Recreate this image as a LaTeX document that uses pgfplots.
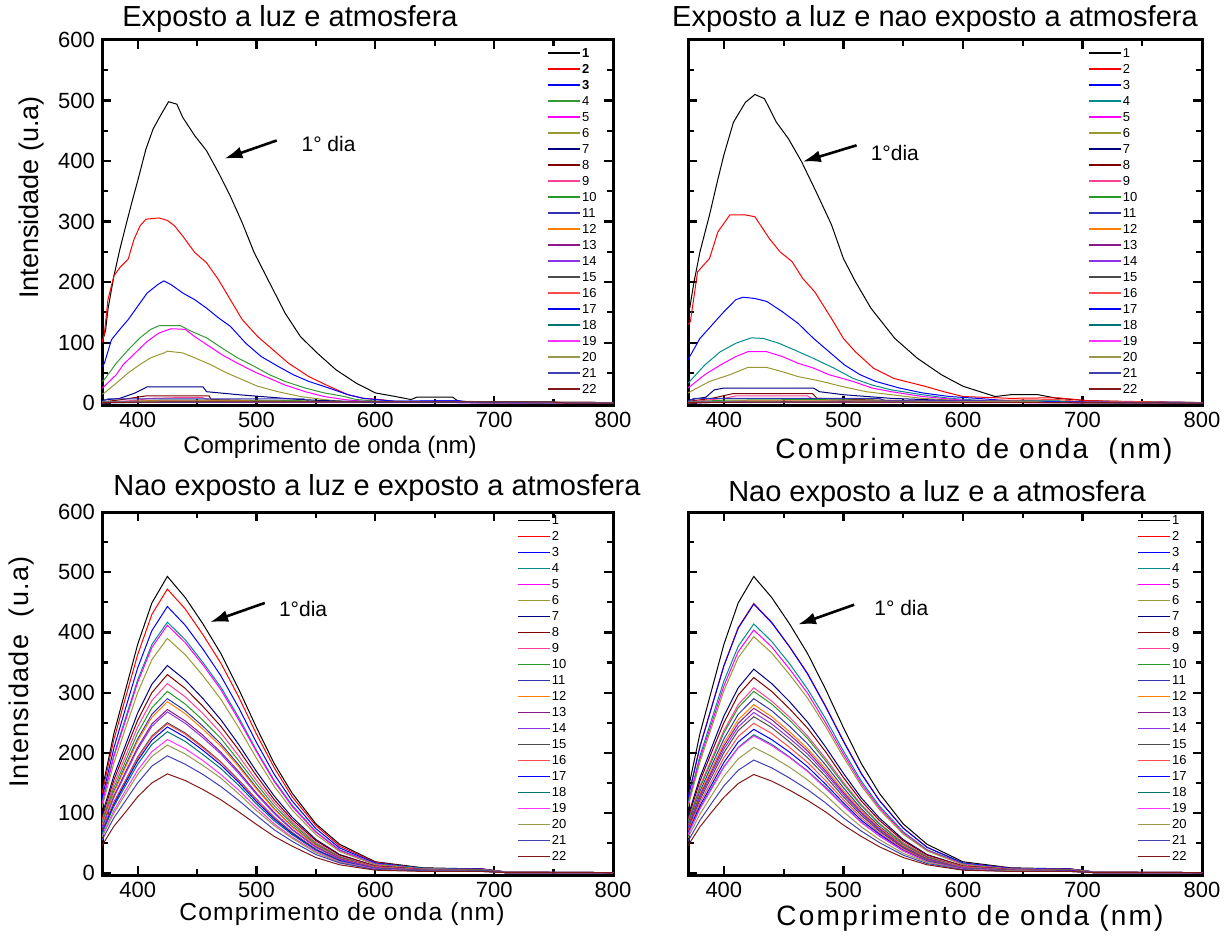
\documentclass[border=0pt]{standalone}
\usepackage{fontspec}
\setmainfont{Liberation Sans}
\newfontfamily\spaced[LetterSpace=8]{Liberation Sans}
\newfontfamily\spacedb[LetterSpace=5]{Liberation Sans}
\usepackage{pgfplots}
\pgfplotsset{compat=1.18}
\usetikzlibrary{arrows.meta}
\definecolor{c1}{rgb}{0,0,0}
\definecolor{c2}{rgb}{1,0,0}
\definecolor{c3}{rgb}{0,0,1}
\definecolor{c4}{rgb}{0,0.55,0.55}
\definecolor{c4g}{rgb}{0.2,0.6,0.2}
\definecolor{c5}{rgb}{1,0,1}
\definecolor{c6}{rgb}{0.6,0.6,0.2}
\definecolor{c7}{rgb}{0,0,0.5}
\definecolor{c8}{rgb}{0.5,0,0}
\definecolor{c9}{rgb}{1,0.25,0.6}
\definecolor{c10}{rgb}{0.15,0.6,0.15}
\definecolor{c11}{rgb}{0.2,0.2,0.7}
\definecolor{c12}{rgb}{1,0.5,0}
\definecolor{c13}{rgb}{0.55,0.1,0.55}
\definecolor{c14}{rgb}{0.55,0.2,0.9}
\definecolor{c15}{rgb}{0.3,0.3,0.3}
\definecolor{c16}{rgb}{1,0.3,0.3}
\definecolor{c17}{rgb}{0,0,1}
\definecolor{c18}{rgb}{0,0.45,0.45}
\definecolor{c19}{rgb}{1,0.2,1}
\definecolor{c20}{rgb}{0.6,0.6,0.3}
\definecolor{c21}{rgb}{0.25,0.25,0.7}
\definecolor{c22}{rgb}{0.5,0.1,0.1}
\tikzset{
 arr/.style={-{Latex[length=9pt,width=6pt]}, line width=1.3pt},
 dia/.style={anchor=west, font=\fontsize{10.5}{12}\selectfont},
}
\pgfplotsset{
 panel/.style={
  scale only axis, width=255.5pt, height=182.5pt,
  xmin=370, xmax=800, ymin=-3, ymax=600,
  xtick={400,500,600,700,800}, minor xtick={450,550,650,750},
  ytick={0,100,...,600}, minor ytick={50,150,...,550},
  tick align=inside, major tick length=4.5pt, minor tick length=3pt,
  every tick/.style={black, line width=1.1pt},
  axis line style={line width=1.5pt},
  tick label style={font=\fontsize{11}{12}\selectfont},
  /pgf/number format/assume math mode=true,
  clip mode=individual,
  legend image code/.code={\draw[#1, line width=0.7pt] (0pt,0pt) -- (16pt,0pt);},
  legend style={draw=none, fill=none, anchor=north west, inner sep=0pt,
    font=\fontsize{6.5}{7}\selectfont,
    nodes={inner sep=0.6pt, text height=5pt, text depth=0.5pt},
    row sep=1.3pt, cells={anchor=west}},
  every axis plot/.append style={line width=0.5pt, mark=none},
 },
}
\begin{document}
\begin{tikzpicture}
\useasboundingbox (0,0) rectangle (615.5pt,-469pt);
% ---------------- Top left ----------------
\begin{axis}[panel, at={(51pt,-202.5pt)}, anchor=south west,
  legend style={at={(0.871,0.984)}}]
\addplot[c1] coordinates {(370,100)(373,120)(375,155)(380,210)(385,254)(390,293)(395,331)(400,367)(407,420)(413,453)(420,478)(426,498)(433,494)(438,472)(448,442)(458,417)(468,381)(478,342)(488,298)(498,249)(511,199)(524,149)(537,110)(551,83)(567,55)(584,33)(600,17)(617,11)(630,6)(635,10)(665,10)(670,3)(700,2)(800,1)};
\addplot[c2] coordinates {(370,100)(372,115)(375,171)(380,210)(385,224)(392,238)(397,271)(402,293)(407,304)(418,306)(425,302)(431,293)(438,276)(448,249)(458,232)(468,204)(478,171)(488,138)(501,110)(514,88)(527,66)(544,44)(561,28)(577,14)(590,8)(604,6)(617,3)(680,2)(800,1)};
\addplot[c3] coordinates {(370,60)(372,66)(378,105)(385,122)(392,138)(400,160)(408,182)(417,196)(422,202)(428,196)(438,182)(448,171)(458,157)(468,141)(478,127)(491,99)(504,77)(518,61)(531,47)(544,36)(561,25)(577,14)(590,8)(617,3)(670,4)(680,1)(800,1)};
\addplot[c4g] coordinates {(370,36)(372,39)(382,66)(392,88)(402,108)(411,122)(418,128)(436,128)(445,119)(458,108)(471,91)(484,75)(498,61)(511,47)(524,36)(541,25)(557,17)(574,11)(584,6)(604,3)(700,2)(800,1)};
\addplot[c5] coordinates {(370,25)(372,28)(382,47)(388,64)(398,83)(408,102)(418,116)(428,123)(440,122)(448,110)(458,97)(471,80)(484,66)(498,52)(511,41)(524,30)(541,19)(557,11)(574,6)(590,3)(800,1)};
\addplot[c6] coordinates {(370,15)(372,17)(382,33)(392,50)(402,64)(411,75)(422,83)(425,86)(438,83)(448,75)(461,64)(475,50)(488,39)(501,28)(518,19)(537,11)(557,6)(574,3)(800,1)};
\addplot[c7] coordinates {(370,5)(385,8)(398,17)(408,27)(455,27)(458,19)(485,14)(504,11)(537,6)(574,3)(700,1)(800,0)};
\addplot[c8] coordinates {(370,2)(387,6)(400,10)(407,12)(460,12)(462,6)(505,4)(540,3)(620,2)(700,1)(800,0)};
\addplot[c9] coordinates {(370,1)(400,5)(410,8)(430,9)(455,9)(460,5)(500,3)(600,2)(800,0)};
\addplot[c10] coordinates {(370,1)(395,3)(420,5)(460,5)(540,4)(560,2)(700,1)(800,0)};
\addplot[c11] coordinates {(370,3)(375,7)(540,7)(545,3)(700,1)(800,0)};
\addplot[c12] coordinates {(370,1)(410,4)(470,4)(600,2)(800,0)};
\addplot[c13] coordinates {(370,1)(400,3)(500,3)(620,2)(800,0)};
\addplot[c14] coordinates {(370,1)(420,3)(560,2)(680,2)(800,0)};
\addplot[c15] coordinates {(370,1)(400,2)(600,2)(800,0)};
\addplot[c16] coordinates {(370,1)(420,3)(520,2)(680,3)(700,1)(800,0)};
\addplot[c17] coordinates {(370,2)(500,2)(670,4)(680,1)(800,0)};
\addplot[c18] coordinates {(370,1)(600,2)(750,2)(760,0)(800,0)};
\addplot[c19] coordinates {(370,1)(450,2)(620,1)(800,0)};
\addplot[c20] coordinates {(370,2)(450,3)(600,2)(800,0)};
\addplot[c21] coordinates {(370,1)(500,2)(700,1)(800,0)};
\addplot[c22] coordinates {(370,1)(420,2)(750,2)(760,0)(800,0)};
\legend{\textbf{1},\textbf{2},\textbf{3},4,5,6,7,8,9,10,11,12,13,14,15,16,17,18,19,20,21,22}
\draw[arr] (axis cs:517,434) -- (axis cs:473,404);
\node[dia] at (axis cs:532,429) {1° dia};
\end{axis}
% ---------------- Top right ----------------
\begin{axis}[panel, at={(344pt,-202.5pt)}, anchor=south west, width=257pt,
  yticklabels={}, legend style={at={(0.778,0.984)}}]
\addplot[c1] coordinates {(370,140)(375,200)(380,250)(388,311)(395,370)(400,410)(408,464)(418,497)(426,510)(434,503)(444,464)(454,437)(465,399)(477,350)(490,295)(500,239)(510,201)(523,157)(543,107)(562,74)(582,47)(600,28)(627,11)(640,14)(663,14)(679,8)(705,4)(750,2)(800,1)};
\addplot[c2] coordinates {(370,130)(372,135)(378,217)(388,239)(395,283)(405,311)(418,311)(426,308)(438,272)(447,250)(457,234)(466,206)(476,184)(490,140)(500,107)(510,85)(525,58)(542,41)(568,28)(584,19)(600,11)(640,8)(679,9)(705,4)(800,1)};
\addplot[c3] coordinates {(370,72)(380,107)(390,129)(400,151)(410,171)(416,175)(426,173)(436,168)(449,151)(462,132)(475,107)(488,85)(501,63)(514,47)(527,36)(547,25)(566,17)(589,11)(612,8)(638,4)(700,2)(800,1)};
\addplot[c4] coordinates {(370,33)(384,63)(397,85)(410,99)(423,108)(433,107)(446,99)(459,88)(475,74)(492,58)(508,41)(524,30)(540,22)(566,14)(589,8)(620,4)(700,2)(800,1)};
\addplot[c5] coordinates {(370,25)(384,47)(397,63)(410,77)(420,85)(436,85)(449,77)(462,66)(475,58)(488,47)(508,36)(524,25)(540,19)(566,11)(600,5)(700,2)(800,1)};
\addplot[c6] coordinates {(370,17)(388,36)(405,47)(420,59)(436,59)(449,52)(462,44)(482,36)(498,28)(519,19)(540,14)(566,8)(600,4)(800,1)};
\addplot[c7] coordinates {(370,5)(385,10)(392,22)(400,25)(475,25)(480,19)(500,14)(540,8)(580,5)(620,3)(700,1)(800,0)};
\addplot[c8] coordinates {(370,3)(390,8)(408,16)(474,16)(478,8)(530,5)(600,3)(700,1)(800,0)};
\addplot[c9] coordinates {(370,2)(400,8)(410,12)(470,12)(475,6)(560,3)(800,0)};
\addplot[c10] coordinates {(370,2)(400,5)(470,6)(570,4)(620,2)(800,0)};
\addplot[c11] coordinates {(370,3)(375,8)(530,8)(535,4)(700,1)(800,0)};
\addplot[c12] coordinates {(370,1)(420,4)(500,4)(620,2)(800,0)};
\addplot[c13] coordinates {(370,1)(410,3)(520,3)(640,2)(800,0)};
\addplot[c14] coordinates {(370,1)(420,3)(560,3)(620,2)(800,0)};
\addplot[c15] coordinates {(370,1)(450,2)(650,2)(680,1)(800,0)};
\addplot[c16] coordinates {(370,1)(500,2)(680,6)(700,2)(750,2)(760,0)(800,0)};
\addplot[c17] coordinates {(370,2)(520,3)(600,4)(650,3)(800,0)};
\addplot[c18] coordinates {(370,1)(600,3)(680,4)(690,1)(800,0)};
\addplot[c19] coordinates {(370,1)(450,2)(600,1)(800,0)};
\addplot[c20] coordinates {(370,2)(500,3)(660,3)(670,1)(800,0)};
\addplot[c21] coordinates {(370,1)(500,2)(720,1)(800,0)};
\addplot[c22] coordinates {(370,1)(450,2)(700,1)(800,0)};
\legend{1,2,3,4,5,6,7,8,9,10,11,12,13,14,15,16,17,18,19,20,21,22}
\draw[arr] (axis cs:511,426) -- (axis cs:466,399);
\node[dia] at (axis cs:517,414) {1°dia};
\end{axis}
% ---------------- Bottom left ----------------
\begin{axis}[panel, at={(51pt,-437.5pt)}, anchor=south west, height=181.5pt,
  legend style={at={(0.812,0.997)}}]
\addplot[c1] coordinates {(370,138)(380,232)(390,306)(400,380)(412,449)(425,493)(440,458)(455,414)(470,365)(485,306)(500,242)(515,182)(530,133)(550,82)(570,48)(600,19)(640,9)(690,7)(710,2)(800,1)};
\addplot[c2] coordinates {(370,132)(380,222)(390,293)(400,363)(412,430)(425,472)(440,439)(455,396)(470,349)(485,293)(500,231)(515,175)(530,127)(550,79)(570,45)(600,18)(640,8)(690,7)(710,2)(800,1)};
\addplot[c3] coordinates {(370,124)(380,208)(390,275)(400,341)(412,403)(425,443)(440,412)(455,372)(470,328)(485,275)(500,217)(515,164)(530,120)(550,74)(570,42)(600,17)(640,8)(690,7)(710,2)(800,1)};
\addplot[c4] coordinates {(370,117)(380,196)(390,259)(400,321)(412,380)(425,417)(440,388)(455,350)(470,309)(485,259)(500,204)(515,154)(530,113)(550,69)(570,39)(600,16)(640,8)(690,6)(710,2)(800,1)};
\addplot[c5] coordinates {(370,115)(380,194)(390,255)(400,317)(412,375)(425,412)(440,383)(455,346)(470,305)(485,255)(500,202)(515,152)(530,111)(550,68)(570,38)(600,15)(640,7)(690,6)(710,2)(800,1)};
\addplot[c6] coordinates {(370,109)(380,183)(390,242)(400,300)(412,355)(425,390)(440,363)(455,328)(470,289)(485,242)(500,191)(515,144)(530,105)(550,64)(570,36)(600,14)(640,7)(690,6)(710,2)(800,1)};
\addplot[c7] coordinates {(370,97)(380,162)(390,214)(400,266)(412,314)(425,345)(440,321)(455,290)(470,255)(485,214)(500,169)(515,128)(530,93)(550,56)(570,31)(600,12)(640,6)(690,5)(710,1)(800,1)};
\addplot[c8] coordinates {(370,92)(380,155)(390,205)(400,254)(412,300)(425,330)(440,307)(455,277)(470,244)(485,205)(500,162)(515,122)(530,89)(550,54)(570,30)(600,12)(640,6)(690,5)(710,1)(800,1)};
\addplot[c9] coordinates {(370,88)(380,148)(390,195)(400,243)(412,287)(425,315)(440,293)(455,265)(470,233)(485,195)(500,154)(515,117)(530,85)(550,51)(570,28)(600,11)(640,6)(690,5)(710,1)(800,1)};
\addplot[c10] coordinates {(370,85)(380,142)(390,187)(400,233)(412,275)(425,302)(440,281)(455,254)(470,224)(485,187)(500,148)(515,112)(530,82)(550,49)(570,27)(600,10)(640,5)(690,5)(710,1)(800,1)};
\addplot[c11] coordinates {(370,81)(380,136)(390,180)(400,223)(412,264)(425,290)(440,270)(455,244)(470,215)(485,180)(500,142)(515,107)(530,78)(550,47)(570,26)(600,10)(640,5)(690,4)(710,1)(800,1)};
\addplot[c12] coordinates {(370,80)(380,134)(390,177)(400,220)(412,259)(425,285)(440,265)(455,239)(470,211)(485,177)(500,140)(515,106)(530,77)(550,46)(570,25)(600,10)(640,5)(690,4)(710,1)(800,1)};
\addplot[c13] coordinates {(370,76)(380,128)(390,169)(400,209)(412,248)(425,272)(440,253)(455,229)(470,201)(485,169)(500,133)(515,101)(530,73)(550,44)(570,24)(600,9)(640,5)(690,4)(710,1)(800,1)};
\addplot[c14] coordinates {(370,75)(380,126)(390,166)(400,206)(412,244)(425,268)(440,249)(455,225)(470,198)(485,166)(500,131)(515,99)(530,72)(550,43)(570,23)(600,9)(640,5)(690,4)(710,1)(800,1)};
\addplot[c15] coordinates {(370,70)(380,118)(390,155)(400,193)(412,228)(425,250)(440,233)(455,210)(470,185)(485,155)(500,123)(515,93)(530,68)(550,40)(570,21)(600,8)(640,5)(690,4)(710,1)(800,1)};
\addplot[c16] coordinates {(370,69)(380,117)(390,154)(400,191)(412,226)(425,248)(440,231)(455,208)(470,184)(485,154)(500,122)(515,92)(530,67)(550,40)(570,21)(600,7)(640,4)(690,4)(710,1)(800,1)};
\addplot[c17] coordinates {(370,68)(380,114)(390,151)(400,187)(412,221)(425,243)(440,226)(455,204)(470,180)(485,151)(500,119)(515,90)(530,66)(550,39)(570,21)(600,7)(640,4)(690,4)(710,1)(800,1)};
\addplot[c18] coordinates {(370,66)(380,111)(390,146)(400,181)(412,214)(425,235)(440,219)(455,197)(470,174)(485,146)(500,115)(515,87)(530,64)(550,38)(570,20)(600,7)(640,4)(690,4)(710,1)(800,1)};
\addplot[c19] coordinates {(370,62)(380,104)(390,138)(400,171)(412,202)(425,222)(440,207)(455,187)(470,164)(485,138)(500,109)(515,82)(530,60)(550,36)(570,19)(600,7)(640,4)(690,3)(710,1)(800,1)};
\addplot[c20] coordinates {(370,60)(380,100)(390,132)(400,164)(412,194)(425,213)(440,198)(455,179)(470,158)(485,132)(500,104)(515,79)(530,58)(550,34)(570,18)(600,6)(640,4)(690,3)(710,1)(800,1)};
\addplot[c21] coordinates {(370,55)(380,92)(390,121)(400,150)(412,178)(425,195)(440,181)(455,164)(470,144)(485,121)(500,96)(515,72)(530,53)(550,31)(570,17)(600,6)(640,4)(690,3)(710,1)(800,1)};
\addplot[c22] coordinates {(370,46)(380,78)(390,102)(400,127)(412,150)(425,165)(440,154)(455,139)(470,122)(485,102)(500,81)(515,61)(530,45)(550,26)(570,14)(600,5)(640,3)(690,3)(710,1)(800,1)};
\legend{1,2,3,4,5,6,7,8,9,10,11,12,13,14,15,16,17,18,19,20,21,22}
\draw[arr] (axis cs:507,449) -- (axis cs:461,417);
\node[dia] at (axis cs:513,439) {1°dia};
\end{axis}
% ---------------- Bottom right ----------------
\begin{axis}[panel, at={(344pt,-437.5pt)}, anchor=south west, width=257pt, height=181.5pt,
  yticklabels={}, legend style={at={(0.874,0.997)}}]
\addplot[c1] coordinates {(370,138)(380,232)(390,306)(400,380)(412,449)(425,493)(440,458)(455,414)(470,365)(485,306)(500,242)(515,182)(530,133)(550,82)(570,48)(600,19)(640,9)(690,7)(710,2)(800,1)};
\addplot[c2] coordinates {(370,125)(380,211)(390,278)(400,345)(412,408)(425,448)(440,417)(455,376)(470,332)(485,278)(500,220)(515,166)(530,121)(550,75)(570,43)(600,17)(640,8)(690,7)(710,2)(800,1)};
\addplot[c3] coordinates {(370,125)(380,210)(390,277)(400,344)(412,407)(425,447)(440,416)(455,376)(470,331)(485,277)(500,219)(515,165)(530,121)(550,75)(570,43)(600,17)(640,8)(690,7)(710,2)(800,1)};
\addplot[c4] coordinates {(370,116)(380,195)(390,257)(400,319)(412,377)(425,414)(440,385)(455,348)(470,306)(485,257)(500,203)(515,153)(530,112)(550,69)(570,39)(600,16)(640,7)(690,6)(710,2)(800,1)};
\addplot[c5] coordinates {(370,113)(380,190)(390,250)(400,311)(412,368)(425,404)(440,376)(455,339)(470,299)(485,250)(500,198)(515,149)(530,109)(550,67)(570,38)(600,15)(640,7)(690,6)(710,2)(800,1)};
\addplot[c6] coordinates {(370,110)(380,185)(390,244)(400,303)(412,358)(425,393)(440,366)(455,330)(470,291)(485,244)(500,193)(515,145)(530,106)(550,65)(570,37)(600,14)(640,7)(690,6)(710,2)(800,1)};
\addplot[c7] coordinates {(370,95)(380,159)(390,210)(400,261)(412,308)(425,339)(440,315)(455,285)(470,251)(485,210)(500,166)(515,125)(530,92)(550,56)(570,31)(600,12)(640,6)(690,5)(710,1)(800,1)};
\addplot[c8] coordinates {(370,91)(380,153)(390,202)(400,250)(412,296)(425,325)(440,302)(455,273)(470,241)(485,202)(500,159)(515,120)(530,88)(550,54)(570,30)(600,12)(640,6)(690,5)(710,1)(800,1)};
\addplot[c9] coordinates {(370,86)(380,145)(390,191)(400,237)(412,280)(425,308)(440,286)(455,259)(470,228)(485,191)(500,151)(515,114)(530,83)(550,51)(570,28)(600,11)(640,6)(690,5)(710,1)(800,1)};
\addplot[c10] coordinates {(370,85)(380,142)(390,187)(400,233)(412,275)(425,302)(440,281)(455,254)(470,224)(485,187)(500,148)(515,112)(530,82)(550,49)(570,27)(600,10)(640,5)(690,5)(710,1)(800,1)};
\addplot[c11] coordinates {(370,81)(380,136)(390,180)(400,223)(412,264)(425,290)(440,270)(455,244)(470,215)(485,180)(500,142)(515,107)(530,78)(550,47)(570,26)(600,10)(640,5)(690,4)(710,1)(800,1)};
\addplot[c12] coordinates {(370,78)(380,132)(390,174)(400,216)(412,255)(425,280)(440,260)(455,235)(470,207)(485,174)(500,137)(515,104)(530,76)(550,46)(570,25)(600,10)(640,5)(690,4)(710,1)(800,1)};
\addplot[c13] coordinates {(370,77)(380,129)(390,170)(400,211)(412,249)(425,274)(440,255)(455,230)(470,203)(485,170)(500,134)(515,101)(530,74)(550,44)(570,24)(600,9)(640,5)(690,4)(710,1)(800,1)};
\addplot[c14] coordinates {(370,75)(380,126)(390,166)(400,206)(412,243)(425,267)(440,248)(455,224)(470,198)(485,166)(500,131)(515,99)(530,72)(550,43)(570,23)(600,9)(640,5)(690,4)(710,1)(800,1)};
\addplot[c15] coordinates {(370,73)(380,122)(390,161)(400,200)(412,237)(425,260)(440,242)(455,218)(470,192)(485,161)(500,127)(515,96)(530,70)(550,42)(570,22)(600,8)(640,5)(690,4)(710,1)(800,1)};
\addplot[c16] coordinates {(370,70)(380,117)(390,154)(400,192)(412,227)(425,249)(440,232)(455,209)(470,184)(485,154)(500,122)(515,92)(530,67)(550,40)(570,21)(600,7)(640,4)(690,4)(710,1)(800,1)};
\addplot[c17] coordinates {(370,67)(380,112)(390,148)(400,184)(412,218)(425,239)(440,222)(455,201)(470,177)(485,148)(500,117)(515,88)(530,65)(550,38)(570,20)(600,7)(640,4)(690,4)(710,1)(800,1)};
\addplot[c18] coordinates {(370,64)(380,108)(390,143)(400,177)(412,209)(425,230)(440,214)(455,193)(470,170)(485,143)(500,113)(515,85)(530,62)(550,37)(570,20)(600,7)(640,4)(690,3)(710,1)(800,1)};
\addplot[c19] coordinates {(370,64)(380,107)(390,141)(400,176)(412,208)(425,228)(440,212)(455,192)(470,169)(485,141)(500,112)(515,84)(530,62)(550,37)(570,19)(600,7)(640,4)(690,3)(710,1)(800,1)};
\addplot[c20] coordinates {(370,59)(380,98)(390,130)(400,161)(412,190)(425,209)(440,194)(455,176)(470,155)(485,130)(500,102)(515,77)(530,56)(550,33)(570,18)(600,6)(640,4)(690,3)(710,1)(800,1)};
\addplot[c21] coordinates {(370,53)(380,88)(390,117)(400,145)(412,171)(425,188)(440,175)(455,158)(470,139)(485,117)(500,92)(515,70)(530,51)(550,30)(570,16)(600,6)(640,3)(690,3)(710,1)(800,1)};
\addplot[c22] coordinates {(370,46)(380,77)(390,102)(400,126)(412,149)(425,164)(440,153)(455,138)(470,121)(485,102)(500,80)(515,61)(530,44)(550,26)(570,14)(600,5)(640,3)(690,3)(710,1)(800,1)};
\legend{1,2,3,4,5,6,7,8,9,10,11,12,13,14,15,16,17,18,19,20,21,22}
\draw[arr] (axis cs:509,446) -- (axis cs:462,413);
\node[dia] at (axis cs:520,440) {1° dia};
\end{axis}
% ---------------- Titles and labels ----------------
\node[font=\fontsize{14.5}{16}\selectfont] at (145pt,-9.5pt) {Exposto a luz e atmosfera};
\node[font=\fontsize{14.5}{16}\selectfont] at (467.5pt,-9.5pt) {Exposto a luz e nao exposto a atmosfera};
\node[font=\fontsize{14.5}{16}\selectfont] at (188.5pt,-244pt) {Nao exposto a luz e exposto a atmosfera};
\node[font=\fontsize{14.5}{16}\selectfont] at (468.5pt,-247pt) {Nao exposto a luz e a atmosfera};
\node[font=\fontsize{12}{14}\selectfont] at (165pt,-223.5pt) {Comprimento de onda (nm)};
\node[font=\spaced\fontsize{14}{16}\selectfont] at (487pt,-225.5pt) {Comprimento de onda \ (nm)};
\node[font=\spacedb\fontsize{12.3}{14}\selectfont] at (171pt,-457pt) {Comprimento de onda (nm)};
\node[font=\spaced\fontsize{14}{16}\selectfont] at (485pt,-459pt) {Comprimento de onda (nm)};
\node[font=\fontsize{13.5}{15}\selectfont, rotate=90] at (16pt,-98.75pt) {Intensidade (u.a)};
\node[font=\spacedb\fontsize{13.5}{15}\selectfont, rotate=90] at (11pt,-336pt) {Intensidade \ (u.a)};
\end{tikzpicture}
\end{document}
